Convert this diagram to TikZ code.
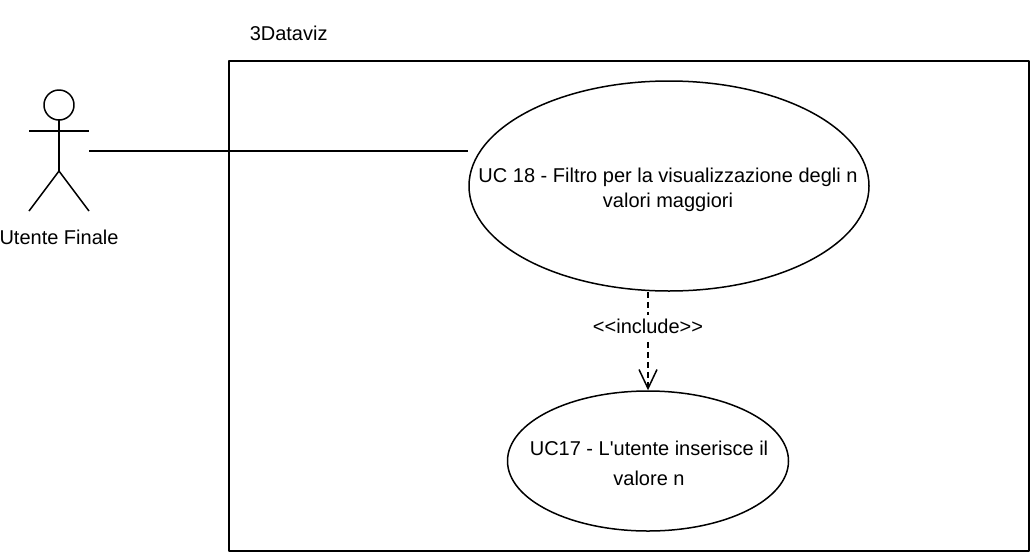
\documentclass[tikz,border=0pt]{standalone}
\usepackage{fontspec}
\setmainfont[Ligatures=TeXOff]{Liberation Sans}
\usetikzlibrary{arrows.meta,shapes.geometric}
\begin{document}
\begin{tikzpicture}[x=1pt, y=-1pt, font=\fontsize{20}{25}\selectfont, line join=round, line width=1.5pt, >={Straight Barb[length=19pt,width=18pt]},
	usecase/.style={draw, ellipse, inner sep=0pt},
	txt/.style={align=center, inner sep=0pt}]
	\useasboundingbox (0,0) rectangle (1030,552);
	\draw (229,61) rectangle (1029,551);
	\node[txt, anchor=west] (title) at (249,33) {3Dataviz};
	% actor
	\draw (59,105) circle (15);
	\draw (59,120)--(59,171);
	\draw (29,131)--(89,131);
	\draw (29,211)--(59,171)--(89,211);
	\node[txt] (actorlabel) at (59,237) {Utente Finale};
	\coordinate (actorhand) at (89,151);
	% use cases
	\node[usecase, minimum width=400, minimum height=210] (uc18) at (669,186) {};
	\node[usecase, minimum width=281, minimum height=140] (uc17) at (648,461) {};
	\node[txt] (uc18text) at (668,189.5) {UC 18 - Filtro per la visualizzazione degli n\\valori maggiori};
	\node[txt] (uc17text) at (649,463) {UC17 - L'utente inserisce il\\[5pt]valore n};
	\draw (actorhand)--(uc18.west |- actorhand);
	\draw[dash pattern=on 6pt off 4pt,->] (uc17.north |- uc18.south)--(uc17.north) node[pos=0.35, fill=white, txt, inner ysep=4pt] (inc) {<<include>>};
\end{tikzpicture}
\end{document}
